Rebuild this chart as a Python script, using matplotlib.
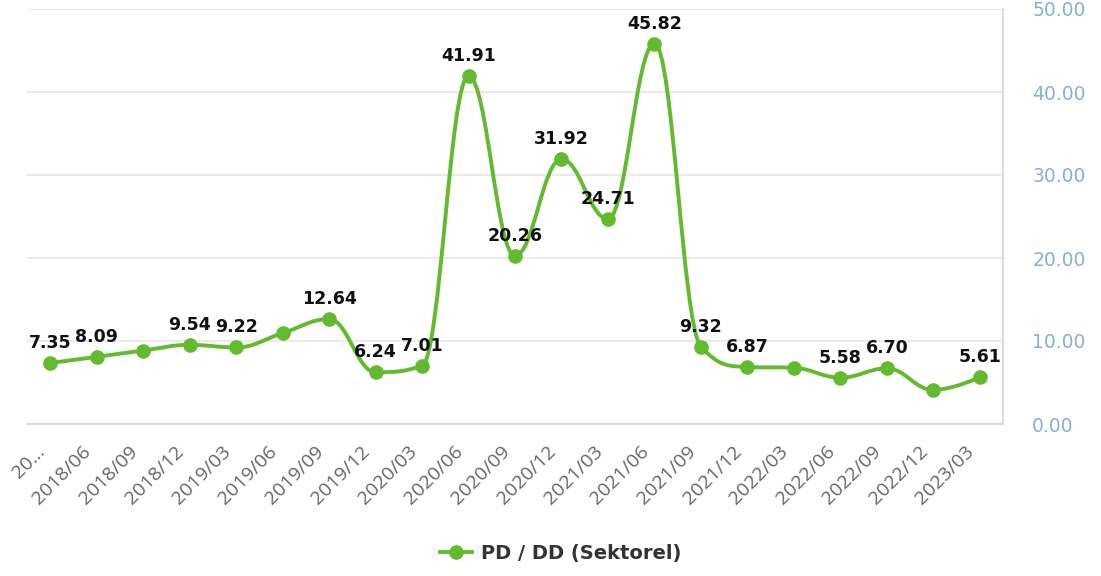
import numpy as np
import matplotlib.pyplot as plt
import matplotlib.transforms as mtransforms
from matplotlib.path import Path
from matplotlib.patches import PathPatch
from matplotlib.lines import Line2D

periods = ['20...', '2018/06', '2018/09', '2018/12', '2019/03', '2019/06', '2019/09',
           '2019/12', '2020/03', '2020/06', '2020/09', '2020/12', '2021/03', '2021/06',
           '2021/09', '2021/12', '2022/03', '2022/06', '2022/09', '2022/12', '2023/03']
pd_dd = [7.35, 8.09, 8.85, 9.54, 9.22, 10.95, 12.64, 6.24, 7.01, 41.91, 20.26,
         31.92, 24.71, 45.82, 9.32, 6.87, 6.78, 5.58, 6.70, 4.10, 5.61]
# points whose value label is shown (the rest are hidden to avoid overlap)
labelled = [True, True, False, True, True, False, True, True, True, True, True,
            True, True, True, True, True, False, True, True, False, True]
y_ticks = [0, 10, 20, 30, 40, 50]

GREEN = '#62bb2e'


def spline_path(xs, ys, smoothing=1.5):
    # cubic bezier spline through the points, same construction as highcharts
    n = len(xs)
    left = [(xs[i], ys[i]) for i in range(n)]
    right = [(xs[i], ys[i]) for i in range(n)]
    d = smoothing + 1
    for i in range(1, n - 1):
        px, py = xs[i], ys[i]
        lx, ly = xs[i - 1], ys[i - 1]
        nx, ny = xs[i + 1], ys[i + 1]
        lcx = (smoothing * px + lx) / d
        lcy = (smoothing * py + ly) / d
        rcx = (smoothing * px + nx) / d
        rcy = (smoothing * py + ny) / d
        if rcx != lcx:
            corr = (rcy - lcy) * (rcx - px) / (rcx - lcx) + py - rcy
            lcy += corr
            rcy += corr
        if lcy > ly and lcy > py:
            lcy = max(ly, py)
            rcy = 2 * py - lcy
        elif lcy < ly and lcy < py:
            lcy = min(ly, py)
            rcy = 2 * py - lcy
        if rcy > ny and rcy > py:
            rcy = max(ny, py)
            lcy = 2 * py - rcy
        elif rcy < ny and rcy < py:
            rcy = min(ny, py)
            lcy = 2 * py - rcy
        left[i] = (lcx, lcy)
        right[i] = (rcx, rcy)
    verts = [(xs[0], ys[0])]
    codes = [Path.MOVETO]
    for i in range(1, n):
        verts += [right[i - 1], left[i], (xs[i], ys[i])]
        codes += [Path.CURVE4] * 3
    return Path(verts, codes)


fig = plt.figure(figsize=(11.01, 5.76), dpi=100)
ax = fig.add_axes([27 / 1101, 152 / 576, 976 / 1101, 415 / 576])

x = np.arange(len(periods))
ax.add_patch(PathPatch(spline_path(x, pd_dd), fill=False, edgecolor=GREEN,
                       linewidth=2.8, capstyle='round', joinstyle='round', zorder=3))
ax.plot(x, pd_dd, linestyle='none', marker='o', markersize=9.5, color=GREEN, zorder=4)

for xi, v, show in zip(x, pd_dd, labelled):
    if show:
        ax.annotate(f'{v:.2f}', (xi, v), xytext=(0, 8), textcoords='offset points',
                    ha='center', va='bottom', fontsize=12.5, fontweight='bold',
                    color='#111111', zorder=5)

ax.set_xlim(-0.5, len(periods) - 0.5)
ax.set_ylim(0, 50)
ax.set_yticks(y_ticks)
ax.set_yticklabels([f'{t:.2f}' for t in y_ticks])
ax.yaxis.tick_right()
ax.tick_params(axis='y', length=0, pad=21, labelsize=13.5, labelcolor='#8aafd6')
ax.set_xticks(x)
ax.set_xticklabels(periods, rotation=45, ha='right', va='center', rotation_mode='anchor',
                   fontsize=14, family='Open Sans', color='#666666')
ax.tick_params(axis='x', length=0, pad=18)
# nudge the rotated category labels a little to the left
shift = mtransforms.ScaledTranslation(-6 / 72, 0, fig.dpi_scale_trans)
for lbl in ax.get_xticklabels():
    lbl.set_transform(lbl.get_transform() + shift)

ax.grid(axis='y', color='#e6e6e6', linewidth=1.2)
ax.set_axisbelow(True)
for side in ('left', 'top'):
    ax.spines[side].set_visible(False)
ax.spines['bottom'].set_color('#ccd6eb')
ax.spines['right'].set_color('#ccd6eb')
ax.spines['bottom'].set_linewidth(1.2)
ax.spines['right'].set_linewidth(1.2)

handle = Line2D([], [], color=GREEN, linewidth=2.8, marker='o', markersize=9.5)
fig.legend([handle], ['PD / DD (Sektorel)'], loc='center', bbox_to_anchor=(561 / 1101, 1 - 553 / 576),
           frameon=False, handlelength=1.6, handletextpad=0.5,
           prop={'size': 14, 'weight': 'bold'}, labelcolor='#333333')

fig.savefig('out.png', dpi=100)
